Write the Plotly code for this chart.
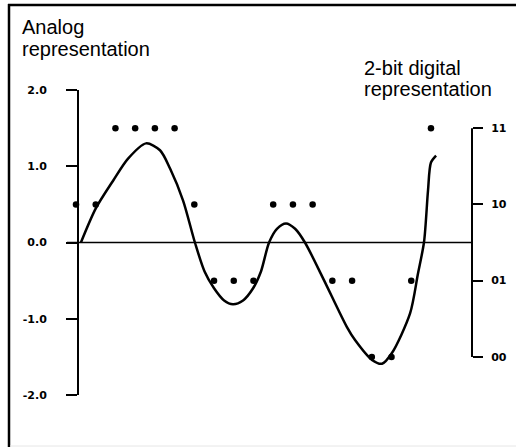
import plotly.graph_objects as go

# Sample positions (sample index) and 2-bit quantised values (plotted at level centres)
sample_idx = list(range(19))
digital_values = [0.5, 0.5, 1.5, 1.5, 1.5, 1.5, 0.5, -0.5, -0.5, -0.5,
                  0.5, 0.5, 0.5, -0.5, -0.5, -1.5, -1.5, -0.5, 1.5]

# Analog curve (x in sample-index units)
curve_t = [0.25, 1.01, 1.88, 2.64, 3.55, 4.26, 4.77, 5.43, 6.03, 6.52, 7.0,
           7.51, 7.96, 8.47, 8.98, 9.38, 9.79, 10.19, 10.65, 11.11, 11.61,
           12.53, 13.74, 14.15, 15.01, 15.52, 16.02, 16.94, 17.34, 17.65,
           17.85, 18.0, 18.26]
curve_v = [0.0, 0.45, 0.81, 1.10, 1.30, 1.21, 0.97, 0.55, 0.0, -0.38, -0.60,
           -0.76, -0.81, -0.76, -0.60, -0.38, 0.0, 0.18, 0.25, 0.18, 0.0,
           -0.47, -1.11, -1.28, -1.54, -1.59, -1.45, -0.93, -0.41, 0.01,
           0.68, 1.05, 1.14]

left_tickvals = [2, 1, 0, -1, -2]
left_ticktext = ["2.0", "1.0", "0.0", "-1.0", "-2.0"]
right_tickvals = [1.5, 0.5, -0.5, -1.5]
right_ticktext = ["11", "10", "01", "00"]

W, H = 516, 447
L, R, T, B = 60, 44, 90, 52          # plot area pixels: x 60..472, y 90..395
PW, PH = W - L - R, H - T - B
AXIS_X = 78                           # pixel position of the left axis line
DOT0_X, DOT_DX = 76, 19.72            # pixel of sample 0 and spacing

def px(x):
    return (x - L) / PW

def py(y):
    return (H - B - y) / PH

fig = go.Figure()
fig.add_trace(go.Scatter(x=curve_t, y=curve_v, mode="lines",
                         line=dict(color="black", width=2.5, shape="spline", smoothing=0.8),
                         hoverinfo="skip", showlegend=False, cliponaxis=False))
fig.add_trace(go.Scatter(x=sample_idx, y=digital_values, mode="markers",
                         marker=dict(color="black", size=6.5),
                         showlegend=False, cliponaxis=False))
# invisible trace to activate right axis
fig.add_trace(go.Scatter(x=[sample_idx[1]], y=[0], yaxis="y2", mode="markers",
                         marker=dict(opacity=0), showlegend=False, hoverinfo="skip"))

tickfont = dict(family="DejaVu Sans", size=11, color="black", weight="bold")

fig.update_layout(
    width=W, height=H,
    margin=dict(l=L, r=R, t=T, b=B, autoexpand=False),
    paper_bgcolor="white", plot_bgcolor="white",
    xaxis=dict(range=[(L - DOT0_X) / DOT_DX, (L + PW - DOT0_X) / DOT_DX],
               showline=False, showgrid=False, zeroline=False,
               showticklabels=False, ticks=""),
    yaxis=dict(range=[-2, 2], tickvals=left_tickvals, ticktext=left_ticktext,
               anchor="free", position=px(AXIS_X),
               showline=True, linecolor="black", linewidth=2,
               ticks="outside", ticklen=11, tickwidth=2, tickcolor="black",
               showgrid=False, zeroline=False,
               tickfont=tickfont, ticklabelstandoff=17),
    yaxis2=dict(range=[-2, 2], overlaying="y", side="right", anchor="x",
                tickvals=right_tickvals, ticktext=right_ticktext,
                showline=False, ticks="outside", ticklen=10, tickwidth=2,
                tickcolor="black", showgrid=False, zeroline=False,
                tickfont=tickfont, ticklabelstandoff=6),
)

# zero line from the left tick to the right axis
fig.add_shape(type="line", xref="paper", yref="y", x0=px(67), x1=1, y0=0, y1=0,
              line=dict(color="black", width=1.3))
# right axis bracket line between 11 and 00
fig.add_shape(type="line", xref="paper", yref="y", x0=1, x1=1, y0=1.5, y1=-1.5,
              line=dict(color="black", width=2))

# frame: left edge, top edge, faint bottom
fig.add_shape(type="line", xref="paper", yref="paper", x0=px(9), x1=px(9),
              y0=py(4), y1=py(447), line=dict(color="black", width=2.5))
fig.add_shape(type="line", xref="paper", yref="paper", x0=px(8), x1=px(516),
              y0=py(5), y1=py(5), line=dict(color="black", width=2.5))
fig.add_shape(type="line", xref="paper", yref="paper", x0=px(10), x1=px(516),
              y0=py(446), y1=py(446), line=dict(color="#e6e6e6", width=1))

title_font = dict(family="Liberation Sans", size=20, color="black")
for text, x, y in [("Analog", 21, 27), ("representation", 21, 49),
                   ("2-bit digital", 363, 68), ("representation", 363, 89)]:
    fig.add_annotation(text=text, xref="paper", yref="paper", x=px(x), y=py(y),
                       xanchor="left", yanchor="middle", showarrow=False,
                       font=title_font, borderpad=0)

fig.write_html("out.html", config={"displayModeBar": False},
               post_script="document.body.style.margin='0';")
